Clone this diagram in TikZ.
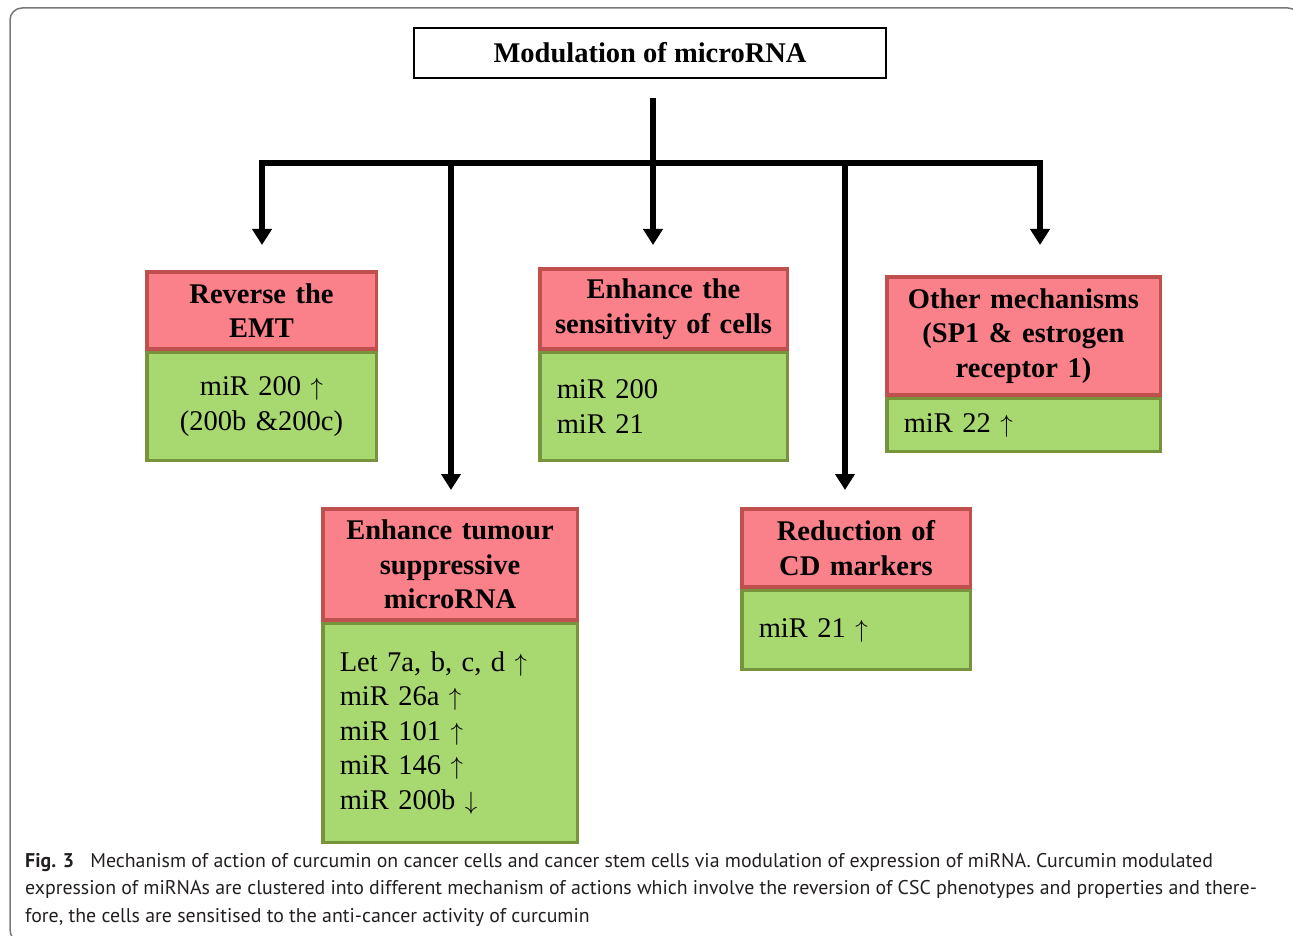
\documentclass[tikz,border=0pt]{standalone}
\usepackage{fontspec}
\setmainfont{Liberation Serif}
\newfontfamily\capfont{PT Sans}
\usetikzlibrary{positioning, arrows.meta}

\definecolor{headfill}{RGB}{250,128,137}
\definecolor{headline}{RGB}{192,80,77}
\definecolor{bodyfill}{RGB}{168,216,112}
\definecolor{bodyline}{RGB}{119,147,60}
\definecolor{framegray}{RGB}{120,120,120}
\definecolor{captext}{RGB}{35,31,32}

\begin{document}
\begin{tikzpicture}[
    x=1pt, y=-1pt,
    font=\fontsize{28.5}{34.5}\selectfont,
    titlebox/.style={rectangle, draw=black, line width=2.5pt, minimum width=472pt, minimum height=50pt,
        font=\fontsize{28.5}{34.5}\selectfont\bfseries},
    head/.style={rectangle, draw=headline, fill=headfill, line width=3.5pt, inner sep=0pt, align=center,
        font=\fontsize{28.5}{34.5}\selectfont\bfseries},
    body/.style={rectangle, draw=bodyline, fill=bodyfill, line width=3.5pt,
        inner xsep=17pt, inner ysep=0pt, align=left},
    link/.style={line width=6pt},
    arrow/.style={link, -{Triangle[width=19pt, length=16pt]}},
    caption/.style={font=\capfont\fontsize{19.85}{27.5}\selectfont, text=captext,
        align=left, inner sep=0pt, anchor=base west}
]
\useasboundingbox (0,0) rectangle (1293,936);

% Frame
\draw[framegray, line width=1.5pt, rounded corners=12pt] (10,8) rectangle (1300,942);

% Title
\node[titlebox] (title) at (650,53) {Modulation of microRNA};

% Mechanism headers and their miRNAs
\node[head, text width=229.5pt, minimum height=77pt] (emth) at (261.5,310.5) {Reverse the\\EMT};
\node[body, align=center, text width=195.5pt, minimum height=108pt, below=0pt of emth] (emtb)
    {miR 200 $\uparrow$\\(200b \&200c)};

\node[head, text width=254.5pt, minimum height=111pt] (tumh) at (450,564.5)
    {Enhance tumour\\suppressive\\microRNA};
\node[body, text width=220.5pt, minimum height=219pt, below=0pt of tumh] (tumb)
    {Let 7a, b, c, d $\uparrow$\\miR 26a $\uparrow$\\miR 101 $\uparrow$\\miR 146 $\uparrow$\\miR 200b $\downarrow$};

\node[head, text width=247.5pt, minimum height=80pt] (senh) at (663.5,309) {Enhance the\\sensitivity of cells};
\node[body, text width=213.5pt, minimum height=108pt, below=0pt of senh] (senb) {miR 200\\miR 21};

\node[head, text width=228.5pt, minimum height=78pt] (cdh) at (856,548) {Reduction of\\CD markers};
\node[body, text width=194.5pt, minimum height=79pt, below=0pt of cdh] (cdb) {miR 21 $\uparrow$};

\node[head, text width=273.5pt, minimum height=118pt] (othh) at (1023.5,336)
    {Other mechanisms\\(SP1 \& estrogen\\receptor 1)};
\node[body, text width=239.5pt, minimum height=53pt, below=0pt of othh] (othb) {miR 22 $\uparrow$};

% Branching connectors
\coordinate (trunk) at (653,98);
\coordinate (bar) at (653,163);
\coordinate (tipA) at (262,245);
\coordinate (tipB) at (451,490);
\coordinate (tipC) at (653,245);
\coordinate (tipD) at (845,490);
\coordinate (tipE) at (1040,245);

\draw[link, {Triangle[width=19pt, length=16pt]}-{Triangle[width=19pt, length=16pt]}] (tipA) |- (bar) -| (tipE);
\draw[arrow] (trunk) -- (tipC);
\draw[arrow] (tipB |- bar) -- (tipB);
\draw[arrow] (tipD |- bar) -- (tipD);

% Caption (base is the last line)
\node[caption] (cap) at (25,922)
    {\textbf{Fig. 3}\hspace{0.55em} Mechanism of action of curcumin on cancer cells and cancer stem cells via modulation of expression of miRNA. Curcumin modulated\\
    expression of miRNAs are clustered into different mechanism of actions which involve the reversion of CSC phenotypes and properties and there-\\
    fore, the cells are sensitised to the anti-cancer activity of curcumin};

\end{tikzpicture}
\end{document}
